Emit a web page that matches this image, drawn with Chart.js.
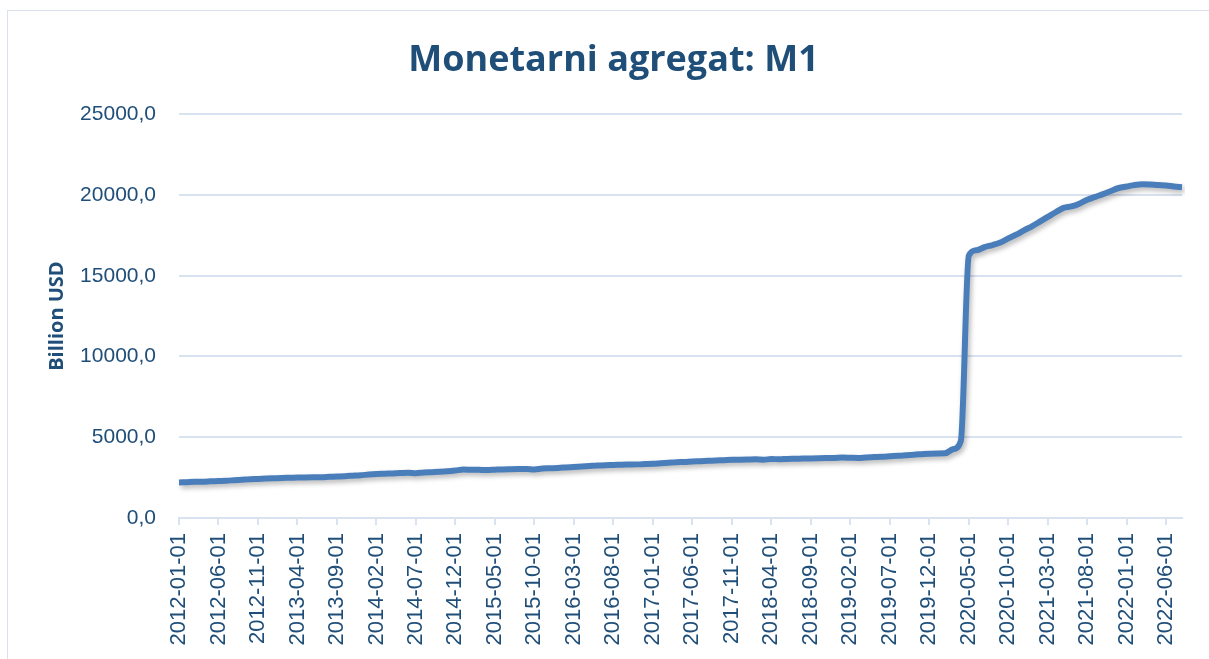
<!DOCTYPE html>
<html>
<head>
<meta charset="utf-8">
<script src="https://cdn.jsdelivr.net/npm/chart.js@4.4.1/dist/chart.umd.min.js"></script>
<style>
  html, body { margin: 0; padding: 0; background: #fff; }
  #wrap { position: relative; width: 1209px; height: 659px; }
  #frame { position: absolute; left: 7px; top: 10px; width: 1220px; height: 700px; border: 1px solid #d9e1ef; }
  canvas { position: absolute; left: 0; top: 0; }
</style>
</head>
<body>
<div id="wrap">
  <div id="frame"></div>
  <canvas id="m1Chart" width="1209" height="659"></canvas>
</div>
<script>
// M1, billion USD, monthly 2012-01 .. 2022-08
var years = [2012, 2013, 2014, 2015, 2016, 2017, 2018, 2019, 2020, 2021, 2022];

var m1_2012 = [2200, 2220, 2240, 2250, 2270, 2290, 2310, 2340, 2370, 2400, 2420, 2440];
var m1_2013 = [2460, 2480, 2490, 2500, 2510, 2520, 2530, 2550, 2570, 2590, 2620, 2650];
var m1_2014 = [2690, 2720, 2740, 2760, 2780, 2800, 2770, 2820, 2840, 2860, 2890, 2940];
var m1_2015 = [3000, 2990, 2980, 2970, 2990, 3010, 3020, 3030, 3040, 3010, 3060, 3080];
var m1_2016 = [3100, 3130, 3160, 3190, 3220, 3250, 3270, 3280, 3300, 3310, 3320, 3340];
var m1_2017 = [3360, 3390, 3420, 3450, 3470, 3500, 3520, 3540, 3560, 3580, 3600, 3610];
var m1_2018 = [3620, 3630, 3610, 3650, 3640, 3660, 3670, 3680, 3690, 3700, 3710, 3720];
var m1_2019 = [3740, 3730, 3720, 3750, 3770, 3790, 3820, 3850, 3880, 3920, 3950, 3980];
var m1_2020 = [4000, 4010, 4260, 4780, 16230, 16580, 16770, 16900, 17060, 17310, 17540, 17810];
var m1_2021 = [18060, 18350, 18640, 18930, 19200, 19290, 19460, 19700, 19880, 20050, 20250, 20430];
var m1_2022 = [20520, 20620, 20670, 20650, 20610, 20590, 20520, 20480];

var yTicks = [0, 5000, 10000, 15000, 20000, 25000];

var m1Values = [].concat(m1_2012, m1_2013, m1_2014, m1_2015, m1_2016, m1_2017,
                         m1_2018, m1_2019, m1_2020, m1_2021, m1_2022);

var labels = [];
years.forEach(function (y) {
    for (var m = 1; m <= 12; m++) {
        if (labels.length < m1Values.length) {
            labels.push(y + '-' + (m < 10 ? '0' + m : m) + '-01');
        }
    }
});

var textColor = '#1f4e79';
var gridColor = '#d9e2f1';

// soft shadow under the line, like the office chart
var lineShadow = {
    id: 'lineShadow',
    beforeDatasetDraw: function (chart) {
        var c = chart.ctx;
        c.save();
        c.shadowColor = 'rgba(0,0,0,0.28)';
        c.shadowBlur = 5;
        c.shadowOffsetX = 2;
        c.shadowOffsetY = 3;
    },
    afterDatasetDraw: function (chart) {
        chart.ctx.restore();
    }
};

var ctx = document.getElementById('m1Chart').getContext('2d');
new Chart(ctx, {
    type: 'line',
    data: {
        labels: labels,
        datasets: [{
            label: 'M1',
            data: m1Values,
            borderColor: '#4a7ebb',
            borderWidth: 6,
            pointRadius: 0,
            cubicInterpolationMode: 'monotone',
            fill: false
        }]
    },
    options: {
        responsive: false,
        animation: false,
        layout: { padding: { left: 45, right: 27, top: 0, bottom: 0 } },
        plugins: {
            legend: { display: false },
            tooltip: { enabled: false },
            title: {
                display: true,
                text: 'Monetarni agregat: M1',
                color: textColor,
                font: { family: 'Open Sans', size: 36, weight: 'bold' },
                padding: { top: 39, bottom: 32 }
            }
        },
        scales: {
            x: {
                offset: false,
                grid: {
                    drawOnChartArea: false,
                    drawTicks: true,
                    tickLength: 7,
                    color: gridColor,
                    lineWidth: 2
                },
                border: { display: true, color: gridColor, width: 2 },
                ticks: {
                    autoSkip: false,
                    maxRotation: 90,
                    minRotation: 90,
                    padding: 8,
                    color: textColor,
                    font: { family: 'Liberation Sans', size: 22 },
                    callback: function (v, i) {
                        return i % 5 === 0 ? labels[i] : null;
                    }
                },
                afterFit: function (s) { s.height = 141; }
            },
            y: {
                min: 0,
                max: 25000,
                afterBuildTicks: function (s) {
                    s.ticks = yTicks.map(function (v) { return { value: v }; });
                },
                grid: { color: gridColor, lineWidth: 2, drawTicks: false },
                border: { display: false },
                ticks: {
                    padding: 23,
                    color: textColor,
                    font: { family: 'Liberation Sans', size: 21 },
                    callback: function (v) { return v.toFixed(1).replace('.', ','); }
                },
                title: {
                    display: true,
                    text: 'Billion USD',
                    color: textColor,
                    font: { family: 'Open Sans', size: 20, weight: 'bold' },
                    padding: 0
                },
                afterFit: function (s) { s.width = 134; }
            }
        }
    },
    plugins: [lineShadow]
});
</script>
</body>
</html>
